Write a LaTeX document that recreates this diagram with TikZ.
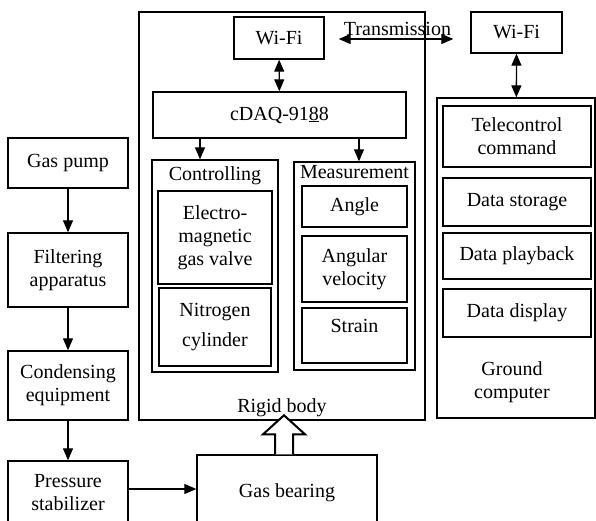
\documentclass[tikz,border=0pt]{standalone}
\usepackage{fontspec}
\setmainfont{Liberation Serif}
\usetikzlibrary{arrows.meta}

\begin{document}
\begin{tikzpicture}[x=1pt,y=-1pt,
	font=\fontsize{20}{23}\selectfont,
	box/.style={draw,line width=1.4pt,inner sep=0pt,align=center},
	arr/.style={line width=1.3pt,-{Triangle[length=12pt,width=10pt]}},
	darr/.style={line width=1.3pt,{Triangle[length=12pt,width=10pt]}-{Triangle[length=12pt,width=10pt]}}]
	
	\useasboundingbox (0,0) rectangle (596,520);
	\clip (0,0) rectangle (596,520);
	
	\node[box,minimum width=120,minimum height=50] (pump) at (68,163) {Gas pump};
	\node[box,minimum width=120,minimum height=74] (filter) at (68,270) {Filtering\\apparatus};
	\node[box,minimum width=120,minimum height=69] (cond) at (68,385.5) {Condensing\\equipment};
	\node[box,minimum width=120,minimum height=64] (press) at (68,493) {Pressure\\stabilizer};
	\node[box,minimum width=180,minimum height=76] (bearing) at (287,493) {Gas bearing};
	
	\node[box,minimum width=286,minimum height=408] (rigid) at (282,216) {};
	\node[anchor=south] (rigidtitle) at (rigid.south) {Rigid body};
	
	\node[box,minimum width=90,minimum height=42] (wifiA) at (279,38) {Wi-Fi};
	\node[box,minimum width=253,minimum height=46] (cdaq) at (279.5,115) {cDAQ-91\underline{8}8};
	
	\node[box,minimum width=126,minimum height=212] (ctrl) at (215,266) {};
	\node (ctrltitle) at (215,176) {Controlling};
	\node[box,minimum width=114,minimum height=93] (valve) at (215,237.5) {Electro-\\magnetic\\gas valve};
	\node[box,minimum width=112,minimum height=78] (nitro) at (215,327) {Nitrogen\\[7pt]cylinder};
	
	\node[box,minimum width=121,minimum height=208] (meas) at (354.5,266) {};
	\node (meastitle) at (354.5,172) {Measurement};
	\node[box,minimum width=105,minimum height=41] (angle) at (354.5,206.5) {Angle};
	\node[box,minimum width=105,minimum height=66] (omega) at (354.5,269) {Angular\\velocity};
	\node[box,minimum width=105,minimum height=55,text depth=20pt] (strain) at (354.5,335.5) {Strain};
	
	\node[box,minimum width=91,minimum height=41] (wifiB) at (516.5,32.5) {Wi-Fi};
	\node[box,minimum width=158,minimum height=320] (ground) at (516,258) {};
	\node[align=center] (groundtitle) at (512,382) {Ground\\computer};
	\node[box,minimum width=148,minimum height=61] (tele) at (517,136.5) {Telecontrol\\command};
	\node[box,minimum width=148,minimum height=48] (store) at (517,202) {Data storage};
	\node[box,minimum width=148,minimum height=46] (play) at (517,256) {Data playback};
	\node[box,minimum width=148,minimum height=48] (show) at (517,313) {Data display};
	
	\draw[arr] (pump) -- (filter);
	\draw[arr] (filter) -- (cond);
	\draw[arr] (cond) -- (press);
	\draw[arr] ([yshift=4pt]press.east) -- ([yshift=4pt]press.east -| bearing.west);
	
	\draw[darr] (wifiA) -- (cdaq);
	\draw[arr] ([xshift=-15pt]ctrl.north |- cdaq.south) -- ([xshift=-15pt]ctrl.north);
	\draw[arr] ([xshift=4.5pt]meas.north |- cdaq.south) -- ([xshift=4.5pt]meas.north);
	\draw[darr,shorten <=14pt,shorten >=17pt] ([yshift=-1pt]wifiA.east) -- ([yshift=-1pt]wifiA.east -| wifiB.west) node[midway,above,inner sep=3pt] (trans) {Transmission};
	\draw[darr] (wifiB) -- (ground);
	
	\draw[line width=2pt,fill=white] ([xshift=-12pt]bearing.north) -- ++(0,-20) -- ++(-12,0) -- ++(21,-19) -- ++(21,19) -- ++(-12,0) -- ++(0,20);
	
\end{tikzpicture}
\end{document}
